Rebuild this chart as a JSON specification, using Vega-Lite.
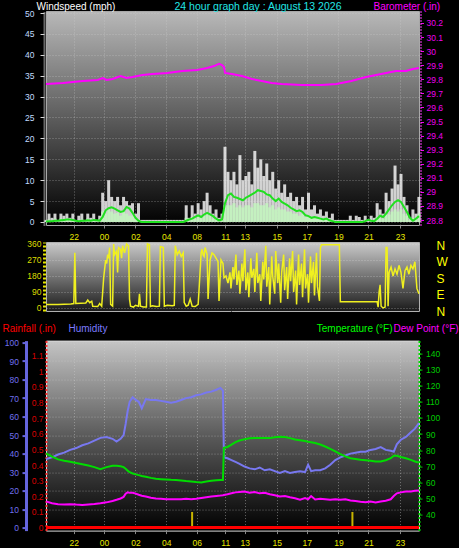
{
"$schema": "https://vega.github.io/schema/vega-lite/v6.json",
"background": "#000000",
"padding": {"left": 1, "top": 1, "right": 0, "bottom": 0},
"spacing": -4.4,
"config": {
 "view": {"stroke": null},
 "axis": {"labelFont": "Liberation Sans", "labelFontSize": 8.5, "titleFont": "Liberation Sans", "titleFontSize": 10, "titleFontWeight": "normal", "labelFlush": false, "labelOverlap": false, "labelBound": false, "grid": false}
},
"datasets": {
"wind": [
{"h":0,"g":0.5,"s":0.2,"a":0.1},{"h":0.194,"g":2,"s":0.6,"a":0.2},{"h":0.387,"g":1,"s":0.3,"a":0.2},{"h":0.581,"g":2,"s":0.8,"a":0.3},{"h":0.774,"g":0.5,"s":0.2,"a":0.3},{"h":0.968,"g":2,"s":0.8,"a":0.4},{"h":1.161,"g":1.5,"s":0.5,"a":0.5},{"h":1.355,"g":2,"s":0.8,"a":0.6},{"h":1.548,"g":1,"s":0.4,"a":0.6},{"h":1.742,"g":2,"s":0.6,"a":0.5},
{"h":1.935,"g":0.5,"s":0.2,"a":0.3},{"h":2.129,"g":1.5,"s":0.5,"a":0.2},{"h":2.323,"g":2,"s":0.6,"a":0.3},{"h":2.516,"g":0.5,"s":0.2,"a":0.3},{"h":2.710,"g":2,"s":0.8,"a":0.4},{"h":2.903,"g":1,"s":0.3,"a":0.3},{"h":3.097,"g":2,"s":0.7,"a":0.5},{"h":3.290,"g":0.5,"s":0.2,"a":0.4},{"h":3.484,"g":1.5,"s":0.4,"a":0.3},{"h":3.677,"g":7,"s":2.5,"a":1.2},
{"h":3.871,"g":5,"s":2,"a":2.8},{"h":4.065,"g":10,"s":3,"a":3.3},{"h":4.258,"g":6,"s":2.5,"a":3.5},{"h":4.452,"g":5,"s":2,"a":3.2},{"h":4.645,"g":6,"s":2.2,"a":2.8},{"h":4.839,"g":4,"s":1.5,"a":2.4},{"h":5.032,"g":6,"s":2.5,"a":2.6},{"h":5.226,"g":5,"s":2,"a":3.6},{"h":5.419,"g":4,"s":1.5,"a":3.2},{"h":5.613,"g":4.5,"s":1.5,"a":2.2},
{"h":5.806,"g":2,"s":0.8,"a":1},{"h":6.000,"g":4.5,"s":0.5,"a":0.3},{"h":6.194,"g":0.5,"s":0,"a":0},{"h":6.387,"g":0.5,"s":0,"a":0},{"h":6.581,"g":0.5,"s":0,"a":0},{"h":6.774,"g":0.5,"s":0,"a":0},{"h":6.968,"g":0.5,"s":0,"a":0},{"h":7.161,"g":0.5,"s":0,"a":0},{"h":7.355,"g":0.5,"s":0,"a":0},{"h":7.548,"g":0.5,"s":0,"a":0},
{"h":7.742,"g":0.5,"s":0,"a":0},{"h":7.935,"g":0.5,"s":0,"a":0},{"h":8.129,"g":0.5,"s":0,"a":0},{"h":8.323,"g":0.5,"s":0,"a":0},{"h":8.516,"g":0.5,"s":0,"a":0},{"h":8.710,"g":0.5,"s":0,"a":0},{"h":8.903,"g":0.5,"s":0,"a":0},{"h":9.097,"g":4,"s":1,"a":0.3},{"h":9.290,"g":1,"s":0.5,"a":0.6},{"h":9.484,"g":4,"s":1.2,"a":0.8},
{"h":9.677,"g":2,"s":0.8,"a":1.2},{"h":9.871,"g":4.5,"s":1.5,"a":1.6},{"h":10.065,"g":3,"s":1,"a":1.2},{"h":10.258,"g":5,"s":1.5,"a":1.8},{"h":10.452,"g":7,"s":2,"a":2.2},{"h":10.645,"g":4,"s":1.5,"a":1.8},{"h":10.839,"g":2,"s":0.8,"a":1.4},{"h":11.032,"g":3,"s":1,"a":0.8},{"h":11.226,"g":1,"s":0.5,"a":0.4},{"h":11.419,"g":2,"s":0.8,"a":0.6},
{"h":11.613,"g":18,"s":4,"a":4.5},{"h":11.806,"g":12,"s":4,"a":6.4},{"h":12.000,"g":10,"s":4,"a":6.8},{"h":12.194,"g":12,"s":4.5,"a":6},{"h":12.387,"g":9,"s":3.5,"a":5.8},{"h":12.581,"g":16,"s":4,"a":5.5},{"h":12.774,"g":10,"s":3.5,"a":5.2},{"h":12.968,"g":11,"s":4,"a":5.8},{"h":13.161,"g":12,"s":4,"a":6.2},{"h":13.355,"g":9,"s":3.5,"a":6.6},
{"h":13.548,"g":17,"s":4.5,"a":7},{"h":13.742,"g":13,"s":4.5,"a":7.6},{"h":13.935,"g":15,"s":4,"a":7.4},{"h":14.129,"g":11,"s":4,"a":7.2},{"h":14.323,"g":14,"s":4.5,"a":6.6},{"h":14.516,"g":10,"s":3.5,"a":6.4},{"h":14.710,"g":12,"s":4,"a":5.6},{"h":14.903,"g":8,"s":3,"a":5},{"h":15.097,"g":10,"s":3.5,"a":5.6},{"h":15.290,"g":7,"s":3,"a":4.8},
{"h":15.484,"g":9,"s":3,"a":4.4},{"h":15.677,"g":6,"s":2.5,"a":4},{"h":15.871,"g":7,"s":2.5,"a":3.4},{"h":16.065,"g":5,"s":2,"a":3},{"h":16.258,"g":6,"s":2,"a":2.6},{"h":16.452,"g":4,"s":1.5,"a":2.8},{"h":16.645,"g":6,"s":2,"a":2.4},{"h":16.839,"g":3,"s":1.2,"a":1.6},{"h":17.032,"g":7,"s":1.5,"a":1.4},{"h":17.226,"g":3,"s":1,"a":1},
{"h":17.419,"g":4,"s":1.2,"a":1.2},{"h":17.613,"g":2,"s":0.8,"a":1},{"h":17.806,"g":3,"s":1,"a":0.8},{"h":18.000,"g":1.5,"s":0.6,"a":0.6},{"h":18.194,"g":2.5,"s":0.8,"a":0.8},{"h":18.387,"g":1,"s":0.4,"a":0.4},{"h":18.581,"g":2,"s":0.5,"a":0.2},{"h":18.774,"g":0.5,"s":0,"a":0},{"h":18.968,"g":0.5,"s":0,"a":0},{"h":19.161,"g":0.5,"s":0,"a":0},
{"h":19.355,"g":0.5,"s":0,"a":0},{"h":19.548,"g":0.5,"s":0,"a":0},{"h":19.742,"g":1.5,"s":0.3,"a":0},{"h":19.935,"g":0.5,"s":0,"a":0},{"h":20.129,"g":1.5,"s":0.3,"a":0},{"h":20.323,"g":1.2,"s":0.3,"a":0},{"h":20.516,"g":0.5,"s":0,"a":0},{"h":20.710,"g":1.5,"s":0.3,"a":0.2},{"h":20.903,"g":0.5,"s":0,"a":0.5},{"h":21.097,"g":1.5,"s":0.4,"a":0.3},
{"h":21.290,"g":1,"s":0.3,"a":0.2},{"h":21.484,"g":4.5,"s":1.2,"a":0.8},{"h":21.677,"g":3,"s":1,"a":1.5},{"h":21.871,"g":2,"s":0.8,"a":1.2},{"h":22.065,"g":7,"s":2,"a":2},{"h":22.258,"g":5,"s":1.8,"a":3},{"h":22.452,"g":8,"s":2.5,"a":4},{"h":22.645,"g":13.5,"s":3,"a":4.8},{"h":22.839,"g":9,"s":2.5,"a":5.2},{"h":23.032,"g":11.5,"s":3,"a":4.8},
{"h":23.226,"g":6,"s":2,"a":3.6},{"h":23.419,"g":4,"s":1.5,"a":2.4},{"h":23.613,"g":1,"s":0.5,"a":1},{"h":23.806,"g":3,"s":1,"a":0.3},{"h":24.000,"g":2,"s":0.8,"a":0.8},{"h":24.194,"g":6,"s":2,"a":1.4}
],
"baro": [
{"h":0,"p":29.766},{"h":1.097,"p":29.774},{"h":2.387,"p":29.788},{"h":3.355,"p":29.795},{"h":3.677,"p":29.809},{"h":3.935,"p":29.795},{"h":4.323,"p":29.802},{"h":4.839,"p":29.823},{"h":5.226,"p":29.809},{"h":5.613,"p":29.816},{"h":6.258,"p":29.830},{"h":6.903,"p":29.838},{"h":7.871,"p":29.845},{"h":8.839,"p":29.859},{"h":9.806,"p":29.866},{"h":10.452,"p":29.880},{"h":10.903,"p":29.894},{"h":11.226,"p":29.909},{"h":11.419,"p":29.901},{"h":11.548,"p":29.887},{"h":11.613,"p":29.845},{"h":12.065,"p":29.838},{"h":12.710,"p":29.823},{"h":13.355,"p":29.802},{"h":14.000,"p":29.788},{"h":14.645,"p":29.774},{"h":15.290,"p":29.766},{"h":16.581,"p":29.759},{"h":17.871,"p":29.759},{"h":18.839,"p":29.766},{"h":19.806,"p":29.788},{"h":20.774,"p":29.816},{"h":21.742,"p":29.838},{"h":22.710,"p":29.859},{"h":23.355,"p":29.859},{"h":23.806,"p":29.873},{"h":24.194,"p":29.880}
],
"dir": [
{"h":0,"d":20},{"h":0.774,"d":20},{"h":1.613,"d":22},{"h":1.806,"d":25},{"h":1.871,"d":310},{"h":1.935,"d":25},{"h":2.581,"d":28},{"h":2.710,"d":45},{"h":2.839,"d":30},{"h":2.968,"d":38},{"h":3.032,"d":10},{"h":3.355,"d":8},{"h":3.484,"d":25},{"h":3.613,"d":10},{"h":3.677,"d":90},{"h":3.742,"d":170},{"h":3.806,"d":220},{"h":3.871,"d":270},{"h":3.935,"d":250},{"h":4.000,"d":300},{"h":4.065,"d":280},{"h":4.129,"d":340},{"h":4.194,"d":20},{"h":4.323,"d":10},{"h":4.387,"d":360},{"h":4.452,"d":300},{"h":4.581,"d":320},{"h":4.645,"d":200},{"h":4.710,"d":340},{"h":4.839,"d":330},{"h":4.903,"d":280},{"h":4.968,"d":350},{"h":5.097,"d":310},{"h":5.226,"d":360},{"h":5.355,"d":350},{"h":5.419,"d":50},{"h":5.484,"d":10},{"h":5.677,"d":5},{"h":5.806,"d":15},{"h":6.000,"d":10},{"h":6.065,"d":80},{"h":6.129,"d":10},{"h":6.323,"d":5},{"h":6.516,"d":5},{"h":6.581,"d":360},{"h":6.710,"d":355},{"h":6.774,"d":8},{"h":6.903,"d":12},{"h":7.161,"d":8},{"h":7.355,"d":10},{"h":7.419,"d":345},{"h":7.613,"d":340},{"h":7.677,"d":10},{"h":7.871,"d":15},{"h":8.194,"d":12},{"h":8.323,"d":15},{"h":8.387,"d":350},{"h":8.516,"d":300},{"h":8.645,"d":320},{"h":8.774,"d":290},{"h":8.903,"d":310},{"h":8.968,"d":30},{"h":9.097,"d":10},{"h":9.226,"d":15},{"h":9.355,"d":50},{"h":9.484,"d":10},{"h":9.677,"d":8},{"h":9.871,"d":20},{"h":9.935,"d":110},{"h":10.065,"d":310},{"h":10.129,"d":330},{"h":10.194,"d":300},{"h":10.258,"d":290},{"h":10.323,"d":340},{"h":10.452,"d":300},{"h":10.516,"d":50},{"h":10.645,"d":270},{"h":10.774,"d":310},{"h":10.903,"d":300},{"h":11.032,"d":280},{"h":11.161,"d":260},{"h":11.226,"d":40},{"h":11.355,"d":270},{"h":11.484,"d":250},{"h":11.548,"d":170},{"h":11.677,"d":180},{"h":11.806,"d":140},{"h":11.935,"d":200},{"h":12.000,"d":110},{"h":12.129,"d":230},{"h":12.194,"d":160},{"h":12.323,"d":300},{"h":12.387,"d":130},{"h":12.516,"d":210},{"h":12.581,"d":80},{"h":12.710,"d":250},{"h":12.774,"d":150},{"h":12.903,"d":330},{"h":12.968,"d":100},{"h":13.097,"d":200},{"h":13.161,"d":60},{"h":13.290,"d":280},{"h":13.355,"d":170},{"h":13.484,"d":220},{"h":13.548,"d":90},{"h":13.677,"d":310},{"h":13.742,"d":140},{"h":13.871,"d":190},{"h":13.935,"d":40},{"h":14.065,"d":260},{"h":14.129,"d":160},{"h":14.258,"d":350},{"h":14.323,"d":120},{"h":14.452,"d":230},{"h":14.516,"d":20},{"h":14.645,"d":290},{"h":14.710,"d":180},{"h":14.839,"d":80},{"h":14.903,"d":320},{"h":15.032,"d":140},{"h":15.097,"d":250},{"h":15.226,"d":30},{"h":15.290,"d":200},{"h":15.419,"d":300},{"h":15.484,"d":100},{"h":15.613,"d":230},{"h":15.677,"d":50},{"h":15.806,"d":280},{"h":15.871,"d":150},{"h":16.000,"d":320},{"h":16.065,"d":90},{"h":16.194,"d":210},{"h":16.258,"d":20},{"h":16.387,"d":300},{"h":16.452,"d":130},{"h":16.581,"d":250},{"h":16.645,"d":60},{"h":16.774,"d":330},{"h":16.839,"d":110},{"h":16.968,"d":190},{"h":17.032,"d":30},{"h":17.161,"d":290},{"h":17.226,"d":140},{"h":17.355,"d":260},{"h":17.419,"d":70},{"h":17.548,"d":310},{"h":17.613,"d":120},{"h":17.742,"d":40},{"h":17.806,"d":340},{"h":17.871,"d":355},{"h":19.032,"d":355},{"h":19.097,"d":35},{"h":21.484,"d":35},{"h":21.548,"d":5},{"h":21.613,"d":90},{"h":21.677,"d":130},{"h":21.742,"d":10},{"h":21.871,"d":0},{"h":22.000,"d":5},{"h":22.065,"d":340},{"h":22.129,"d":340},{"h":22.194,"d":10},{"h":22.258,"d":200},{"h":22.387,"d":230},{"h":22.516,"d":180},{"h":22.645,"d":220},{"h":22.774,"d":190},{"h":22.903,"d":240},{"h":23.032,"d":200},{"h":23.161,"d":110},{"h":23.290,"d":210},{"h":23.419,"d":230},{"h":23.548,"d":190},{"h":23.677,"d":240},{"h":23.806,"d":220},{"h":23.935,"d":260},{"h":24.065,"d":110},{"h":24.194,"d":80}
],
"th": [
{"h":0,"hum":37,"temp":78,"dew":48.2},{"h":0.392,"hum":38,"temp":76,"dew":47},{"h":0.785,"hum":39.5,"temp":74.3,"dew":46.5},{"h":1.177,"hum":40.5,"temp":73.5,"dew":46.2},{"h":1.570,"hum":42,"temp":72.8,"dew":46.5},{"h":1.962,"hum":43,"temp":72,"dew":46.2},{"h":2.354,"hum":44.5,"temp":71.3,"dew":46},{"h":2.747,"hum":45.5,"temp":70.5,"dew":46.3},{"h":3.139,"hum":47,"temp":69.5,"dew":46.6},{"h":3.532,"hum":48.5,"temp":68.2,"dew":47},
{"h":3.924,"hum":49,"temp":69.5,"dew":47.6},{"h":4.317,"hum":48,"temp":70.3,"dew":48.5},{"h":4.578,"hum":46.5,"temp":70.3,"dew":49.2},{"h":4.840,"hum":48,"temp":70,"dew":50},{"h":5.036,"hum":50,"temp":69.5,"dew":51},{"h":5.167,"hum":56,"temp":68.5,"dew":53},{"h":5.298,"hum":63,"temp":67.3,"dew":53.8},{"h":5.428,"hum":68,"temp":66.3,"dew":53.5},{"h":5.625,"hum":70.5,"temp":65.5,"dew":53.6},{"h":5.821,"hum":69,"temp":65,"dew":53},
{"h":6.017,"hum":68,"temp":64.5,"dew":52.3},{"h":6.213,"hum":64.5,"temp":64,"dew":51.7},{"h":6.475,"hum":69.5,"temp":63.5,"dew":51.2},{"h":6.802,"hum":69,"temp":62.8,"dew":50.5},{"h":7.129,"hum":69,"temp":62.2,"dew":50},{"h":7.456,"hum":68.5,"temp":62,"dew":49.8},{"h":7.783,"hum":68,"temp":61.8,"dew":49.5},{"h":8.110,"hum":67.5,"temp":61.6,"dew":49.6},{"h":8.437,"hum":68,"temp":61.5,"dew":49.5},{"h":8.764,"hum":69,"temp":61.2,"dew":49.6},
{"h":9.091,"hum":70,"temp":60.8,"dew":49.8},{"h":9.418,"hum":70.5,"temp":60.5,"dew":49.5},{"h":9.745,"hum":71.5,"temp":60.2,"dew":49.8},{"h":10.072,"hum":72,"temp":60,"dew":50.3},{"h":10.399,"hum":73,"temp":60.6,"dew":50.8},{"h":10.726,"hum":73.5,"temp":61,"dew":51.3},{"h":11.053,"hum":74.5,"temp":61.3,"dew":51.6},{"h":11.315,"hum":75.5,"temp":61.5,"dew":51.8},{"h":11.478,"hum":74,"temp":61.5,"dew":52},{"h":11.544,"hum":38,"temp":81.5,"dew":52.2},
{"h":11.773,"hum":37.5,"temp":82,"dew":52.6},{"h":12.034,"hum":36.5,"temp":83.5,"dew":53.2},{"h":12.296,"hum":35.5,"temp":85,"dew":53.8},{"h":12.557,"hum":34.5,"temp":86,"dew":54},{"h":12.884,"hum":33,"temp":86.8,"dew":54.3},{"h":13.211,"hum":32,"temp":87.4,"dew":53.6},{"h":13.538,"hum":31.5,"temp":87.5,"dew":54},{"h":13.865,"hum":32.5,"temp":87.6,"dew":53.2},{"h":14.192,"hum":31,"temp":87.6,"dew":53.5},{"h":14.519,"hum":31.5,"temp":87.5,"dew":52.6},
{"h":14.846,"hum":30.5,"temp":88,"dew":52},{"h":15.173,"hum":29.5,"temp":88.4,"dew":51.3},{"h":15.500,"hum":30.5,"temp":88.2,"dew":51.6},{"h":15.827,"hum":29.5,"temp":87.5,"dew":50.8},{"h":16.154,"hum":30,"temp":86.7,"dew":50.2},{"h":16.481,"hum":30.5,"temp":86.2,"dew":49.3},{"h":16.808,"hum":30,"temp":85.7,"dew":50.3},{"h":17.005,"hum":34,"temp":85.3,"dew":49.5},{"h":17.201,"hum":30.5,"temp":85,"dew":51.5},{"h":17.462,"hum":31,"temp":84.5,"dew":49.4},
{"h":17.789,"hum":31,"temp":83.5,"dew":49.8},{"h":18.116,"hum":32,"temp":82.3,"dew":49.6},{"h":18.443,"hum":34,"temp":80.8,"dew":49.3},{"h":18.770,"hum":36.5,"temp":79.2,"dew":49.6},{"h":19.097,"hum":38,"temp":77.5,"dew":49.2},{"h":19.424,"hum":39,"temp":76.2,"dew":49.5},{"h":19.751,"hum":40,"temp":75,"dew":48.8},{"h":20.078,"hum":40.5,"temp":74.5,"dew":48.5},{"h":20.405,"hum":41,"temp":74,"dew":48},{"h":20.732,"hum":41,"temp":73.8,"dew":47.7},
{"h":21.059,"hum":42,"temp":73.5,"dew":48.2},{"h":21.386,"hum":42.5,"temp":73,"dew":47.6},{"h":21.713,"hum":43.5,"temp":73,"dew":48.2},{"h":22.040,"hum":42,"temp":73.8,"dew":48.6},{"h":22.367,"hum":41.5,"temp":75,"dew":49.5},{"h":22.563,"hum":41,"temp":76.5,"dew":51.5},{"h":22.760,"hum":45,"temp":76.5,"dew":53.2},{"h":23.021,"hum":47.5,"temp":75.8,"dew":53.8},{"h":23.348,"hum":49,"temp":75,"dew":54.3},{"h":23.675,"hum":51.5,"temp":74,"dew":54.4},
{"h":23.937,"hum":53.5,"temp":73,"dew":54.8},{"h":24.199,"hum":56.5,"temp":72.3,"dew":54.9}
],
"ev": [{"h":9.48,"v":0.1},{"h":19.88,"v":0.1}]
},
"vconcat": [
{
 "width": 373, "height": 214,
 "view": {"fill": {"gradient": "linear", "x1": 0, "y1": 0, "x2": 0, "y2": 1, "stops": [{"offset": 0, "color": "#b8b8b8"}, {"offset": 0.5, "color": "#5c5c5c"}, {"offset": 1, "color": "#000000"}]}, "stroke": "#a8a8a8"},
 "encoding": {"x": {"field": "h", "type": "quantitative", "scale": {"domain": [0, 24.2], "nice": false, "zero": false},
   "axis": {"values": [1.8, 3.77, 5.8, 7.8, 9.78, 11.63, 12.9, 14.97, 16.92, 18.97, 20.92, 22.96],
     "labelExpr": "datum.value < 2.5 ? '22' : datum.value < 4.5 ? '00' : datum.value < 6.5 ? '02' : datum.value < 8.5 ? '04' : datum.value < 10.5 ? '08' : datum.value < 12 ? '11' : datum.value < 14 ? '13' : datum.value < 16 ? '15' : datum.value < 18 ? '17' : datum.value < 20 ? '19' : datum.value < 22 ? '21' : '23'",
     "labelColor": "#e8e800", "tickColor": "#888888", "tickSize": 3, "labelPadding": 4.5, "domain": false,
     "grid": true, "gridColor": "#d0d0d0", "gridOpacity": 0.45, "gridDash": [1, 2],
     "title": "24 hour graph day : August 13 2026", "titleColor": "#22e6e6", "titleFontSize": 10.5, "titleX": 211.5, "titleY": -215.3, "titleAlign": "center", "titleAngle": 0, "titleBaseline": "alphabetic"}}},
 "layer": [
  {"data": {"name": "wind"}, "mark": {"type": "rule", "color": "#f2f2f2", "strokeWidth": 3, "opacity": 0.85},
   "encoding": {"y": {"field": "g", "type": "quantitative", "scale": {"domain": [-0.72, 50.48], "nice": false, "zero": false},
     "axis": {"orient": "left", "offset": 2, "values": [0, 5, 10, 15, 20, 25, 30, 35, 40, 45, 50], "labelColor": "#c0dcff", "domainColor": "#d0d0d0", "domainWidth": 2, "domainDash": [1, 1], "tickColor": "#d8d8d8", "tickSize": 4, "labelPadding": 6,
       "grid": true, "gridColor": "#d0d0d0", "gridOpacity": 0.45, "gridDash": [1, 2],
       "title": "Windspeed (mph)", "titleColor": "#ffffff", "titleX": -8, "titleY": -1.3, "titleAlign": "left", "titleAngle": 0, "titleBaseline": "alphabetic"}},
     "y2": {"datum": 0}}},
  {"data": {"name": "wind"}, "mark": {"type": "rule", "color": "#c4f0c0", "strokeWidth": 3},
   "encoding": {"y": {"field": "s", "type": "quantitative", "scale": {"domain": [-0.72, 50.48], "nice": false, "zero": false}, "axis": null}, "y2": {"datum": 0}}},
  {"data": {"name": "wind"}, "mark": {"type": "line", "color": "#20e020", "strokeWidth": 2},
   "encoding": {"y": {"field": "a", "type": "quantitative", "scale": {"domain": [-0.72, 50.48], "nice": false, "zero": false}, "axis": null}}},
  {"data": {"name": "baro"}, "mark": {"type": "line", "color": "#ff00ff", "strokeWidth": 2},
   "encoding": {"y": {"field": "p", "type": "quantitative", "scale": {"domain": [28.765, 30.285], "nice": false, "zero": false},
     "axis": {"orient": "right", "offset": 1.5, "values": [28.8, 28.9, 29, 29.1, 29.2, 29.3, 29.4, 29.5, 29.6, 29.7, 29.8, 29.9, 30, 30.1, 30.2], "format": ".1~f", "labelColor": "#ee00ee", "domainColor": "#ff40ff", "domainWidth": 2, "domainDash": [1, 2], "tickColor": "#ee00ee", "tickSize": 3, "labelPadding": 2.5, "grid": false,
       "title": "Barometer (.in)", "titleColor": "#ff00ff", "titleX": -47.5, "titleY": -1.3, "titleAlign": "left", "titleAngle": 0, "titleBaseline": "alphabetic"}}}}
 ],
 "resolve": {"scale": {"y": "independent"}}
},
{
 "width": 373, "height": 69,
 "view": {"fill": {"gradient": "linear", "x1": 0, "y1": 0, "x2": 0, "y2": 1, "stops": [{"offset": 0, "color": "#cacaca"}, {"offset": 1, "color": "#1a1a1a"}]}, "stroke": "#b0b0b0"},
 "encoding": {"x": {"field": "h", "type": "quantitative", "scale": {"domain": [0, 24.2], "nice": false, "zero": false},
   "axis": {"values": [12], "labels": false, "domain": false, "grid": false, "ticks": true, "tickColor": "#000000", "tickSize": 14.7, "title": null}}},
 "layer": [
  {"data": {"name": "dir"}, "mark": {"type": "line", "color": "#f0f020", "strokeWidth": 1.5},
   "encoding": {"y": {"field": "d", "type": "quantitative", "scale": {"domain": [-17, 371], "nice": false, "zero": false},
     "axis": {"orient": "left", "offset": 2, "values": [0, 90, 180, 270, 360], "labelColor": "#dede00", "domainColor": "#e6e600", "domainWidth": 3, "domainDash": [2, 2], "ticks": false, "labelPadding": 3,
       "grid": true, "gridColor": "#dddddd", "gridOpacity": 0.45, "gridDash": [1, 2], "title": null}}}},
  {"data": {"name": "dir"}, "mark": {"type": "point", "opacity": 0},
   "encoding": {"y": {"field": "d", "type": "quantitative", "scale": {"domain": [0, 380], "nice": false, "zero": false},
     "axis": {"orient": "right", "values": [0, 90, 180, 270, 360], "labelExpr": "datum.value == 90 ? 'E' : datum.value == 180 ? 'S' : datum.value == 270 ? 'W' : 'N'", "labelColor": "#ffff00", "labelFontSize": 12, "labelPadding": 17, "ticks": false, "domain": false, "grid": false, "title": null}}}}
 ],
 "resolve": {"scale": {"y": "independent"}}
},
{
 "width": 373, "height": 190,
 "view": {"fill": {"gradient": "linear", "x1": 0, "y1": 0, "x2": 0, "y2": 1, "stops": [{"offset": 0, "color": "#c4c4c4"}, {"offset": 0.5, "color": "#5a5a5a"}, {"offset": 1, "color": "#000000"}]}, "stroke": "#d8d8d8"},
 "encoding": {"x": {"field": "h", "type": "quantitative", "scale": {"domain": [0, 24.2], "nice": false, "zero": false},
   "axis": {"values": [1.8, 3.77, 5.8, 7.8, 9.78, 11.63, 12.9, 14.97, 16.92, 18.97, 20.92, 22.96],
     "labelExpr": "datum.value < 2.5 ? '22' : datum.value < 4.5 ? '00' : datum.value < 6.5 ? '02' : datum.value < 8.5 ? '04' : datum.value < 10.5 ? '06' : datum.value < 12 ? '11' : datum.value < 14 ? '13' : datum.value < 16 ? '15' : datum.value < 18 ? '17' : datum.value < 20 ? '19' : datum.value < 22 ? '21' : '23'",
     "labelColor": "#e8e800", "tickColor": "#888888", "tickSize": 3, "labelPadding": 5, "domain": false,
     "grid": true, "gridColor": "#d0d0d0", "gridOpacity": 0.45, "gridDash": [1, 2], "title": null}}},
 "layer": [
  {"data": {"name": "th"}, "mark": {"type": "line", "color": "#7878f0", "strokeWidth": 2},
   "encoding": {"y": {"field": "hum", "type": "quantitative", "scale": {"domain": [-1.62, 101.08], "nice": false, "zero": false},
     "axis": {"orient": "left", "offset": 20, "values": [0, 10, 20, 30, 40, 50, 60, 70, 80, 90, 100], "format": "d", "labelColor": "#7070ee", "domainColor": "#6666dd", "domainWidth": 3, "tickColor": "#6666dd", "tickSize": 4, "tickWidth": 2, "labelPadding": 3.5,
       "grid": true, "gridColor": "#d0d0d0", "gridOpacity": 0.45, "gridDash": [1, 2],
       "title": "Humidity", "titleColor": "#7b7bff", "titleX": 42, "titleY": -8.7, "titleAlign": "left", "titleAngle": 0, "titleBaseline": "alphabetic"}}}},
  {"data": {"name": "th"}, "mark": {"type": "line", "color": "#00dd00", "strokeWidth": 2},
   "encoding": {"y": {"field": "temp", "type": "quantitative", "scale": {"domain": [30.06, 148.07], "nice": false, "zero": false},
     "axis": {"orient": "right", "values": [40, 50, 60, 70, 80, 90, 100, 110, 120, 130, 140], "labelColor": "#00cc00", "domainColor": "#00dd00", "domainWidth": 2, "domainDash": [2, 2], "tickColor": "#00cc00", "tickSize": 3, "labelPadding": 3.5, "grid": false,
       "title": "Temperature (°F)", "titleColor": "#00ff00", "titleX": -27, "titleY": -8.7, "titleAlign": "right", "titleAngle": 0, "titleBaseline": "alphabetic"}}}},
  {"data": {"name": "th"}, "mark": {"type": "line", "color": "#ff00ff", "strokeWidth": 2},
   "encoding": {"y": {"field": "dew", "type": "quantitative", "scale": {"domain": [30.06, 148.07], "nice": false, "zero": false},
     "axis": {"orient": "right", "labels": false, "ticks": false, "domain": false, "grid": false,
       "title": "Dew Point (°F)", "titleColor": "#ff00ff", "titleX": -26, "titleY": -8.7, "titleAlign": "left", "titleAngle": 0, "titleBaseline": "alphabetic"}}}},
  {"data": {"name": "ev"}, "mark": {"type": "rule", "color": "#c8b400", "strokeWidth": 2},
   "encoding": {"y": {"field": "v", "type": "quantitative", "scale": {"domain": [-0.0192, 1.1957], "nice": false, "zero": false}, "axis": null}, "y2": {"datum": 0}}},
  {"data": {"name": "th"}, "mark": {"type": "line", "color": "#ff0000", "strokeWidth": 3},
   "encoding": {"y": {"datum": 0, "type": "quantitative", "scale": {"domain": [-0.0192, 1.1957], "nice": false, "zero": false},
     "axis": {"orient": "left", "offset": 0, "values": [0, 0.1, 0.2, 0.3, 0.4, 0.5, 0.6, 0.7, 0.8, 0.9, 1, 1.1, 1.2], "format": ".1~f", "labelColor": "#dd0000", "domainColor": "#ff3333", "domainWidth": 2, "domainDash": [2, 2], "ticks": false, "labelPadding": 3, "grid": false,
       "title": "Rainfall (.in)", "titleColor": "#ff0000", "titleX": -44, "titleY": -8.7, "titleAlign": "left", "titleAngle": 0, "titleBaseline": "alphabetic"}}}}
 ],
 "resolve": {"scale": {"y": "independent"}}
}
]
}
